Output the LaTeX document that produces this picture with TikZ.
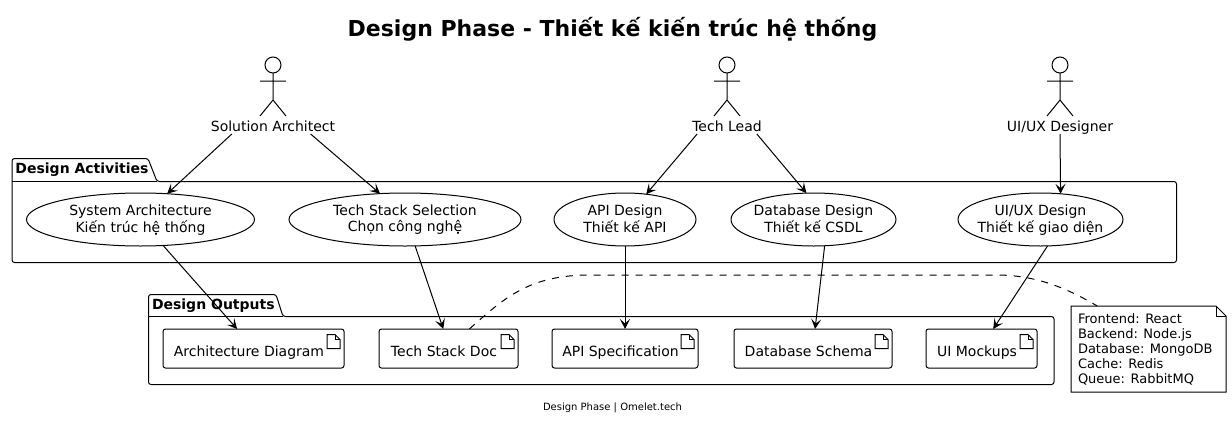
\documentclass[tikz,border=0pt]{standalone}
\usepackage{fontspec}
\setmainfont{DejaVu Sans}
\usetikzlibrary{arrows.meta,shapes.geometric}
\tikzset{
  every node/.style={inner sep=0pt,outer sep=0pt,font=\fontsize{14}{16}\selectfont,text=black},
  line/.style={draw=black,line width=1pt},
  flow/.style={line,-{Stealth[length=10pt,width=10pt,inset=4.5pt]}},
  usecase/.style={ellipse,line,fill=white,minimum width=#1,minimum height=53pt},
  artifact/.style={rectangle,line,rounded corners=2.5pt,fill=white,minimum width=#1,minimum height=39pt},
  actorlabel/.style={minimum height=16pt,text height=10pt,text depth=0pt},
  pkgtitle/.style={anchor=west,font=\fontsize{14}{15}\selectfont\bfseries},
}
\newcommand\arttext[1]{\smash{\raisebox{-7.5pt}{#1}}\kern9pt}
\newcommand\uctext[2]{\makebox[0pt][c]{\smash{\raisebox{-4.8pt}{\begin{tabular}{@{}c@{}}#1\\#2\end{tabular}}}}}
\newcommand\docicon[1]{%
  \draw[line,fill=white] ([shift={(-17,5.5)}]#1.north east) -- ([shift={(-9,5.5)}]#1.north east)
    -- ([shift={(-4,10.5)}]#1.north east) -- ([shift={(-4,19.5)}]#1.north east)
    -- ([shift={(-17,19.5)}]#1.north east) -- cycle;
  \draw[line] ([shift={(-9,5.5)}]#1.north east) -- ([shift={(-9,10.5)}]#1.north east) -- ([shift={(-4,10.5)}]#1.north east);}
\newcommand\actorfig[1]{%
  \draw[line] (#1,65) circle (8);
  \draw[line] (#1,73) -- (#1,100) (#1-13,81) -- (#1+13,81) (#1-13,116) -- (#1,100) -- (#1+13,116);}
\begin{document}
\begin{tikzpicture}[x=1pt,y=-1pt]
\useasboundingbox (0,0) rectangle (1232,426);
\fill[white] (0,0) rectangle (1232,426);
\node[font=\fontsize{22}{24}\selectfont\bfseries] (title) at (612.5,29) {Design Phase - Thiết kế kiến trúc hệ thống};
\node[font=\fontsize{10}{11}\selectfont] (footer) at (612.5,408) {Design Phase | Omelet.tech};

% packages
\draw[line,rounded corners=2.5pt] (12,181.5) -- (12,158.5) -- (148,158.5) -- (157,181.5) -- (1176.5,181.5) -- (1176.5,262.5) -- (12,262.5) -- cycle;
\draw[line] (12,181.5) -- (157,181.5);
\node[pkgtitle] (pkgact) at (15.5,169.5) {Design Activities};
\draw[line,rounded corners=2.5pt] (148.5,316.5) -- (148.5,294.5) -- (276,294.5) -- (283,316.5) -- (1054,316.5) -- (1054,384.5) -- (148.5,384.5) -- cycle;
\draw[line] (148.5,316.5) -- (283,316.5);
\node[pkgtitle] (pkgout) at (152,305.5) {Design Outputs};

% actors
\actorfig{273}
\actorfig{727}
\actorfig{1060}
\node[actorlabel,minimum width=124pt] (sa) at (273,126) {Solution Architect};
\node[actorlabel,minimum width=72pt] (tl) at (727,126) {Tech Lead};
\node[actorlabel,minimum width=106pt] (ux) at (1060,126) {UI/UX Designer};

% use cases
\node[usecase=228pt] (uc1) at (140.5,219.5) {\uctext{System Architecture}{Kiến trúc hệ thống}};
\node[usecase=232pt] (uc2) at (405,219.5) {\uctext{Tech Stack Selection}{Chọn công nghệ}};
\node[usecase=142pt] (uc3) at (625,219.5) {\uctext{API Design}{Thiết kế API}};
\node[usecase=165pt] (uc4) at (813.5,219.5) {\uctext{Database Design}{Thiết kế CSDL}};
\node[usecase=165pt] (uc5) at (1040.5,219.5) {\uctext{UI/UX Design}{Thiết kế giao diện}};

% artifacts
\node[artifact=181pt] (a1) at (253.5,348.5) {\arttext{Architecture Diagram}};
\node[artifact=139pt] (a2) at (448.5,348.5) {\arttext{Tech Stack Doc}};
\node[artifact=146pt] (a3) at (625,348.5) {\arttext{API Specification}};
\node[artifact=158pt] (a4) at (813,348.5) {\arttext{Database Schema}};
\node[artifact=111pt] (a5) at (981.5,348.5) {\arttext{UI Mockups}};
\foreach \n in {a1,a2,a3,a4,a5}{\docicon{\n}}

% note
\node[minimum width=155pt,minimum height=86pt] (note) at (1148.5,349) {};
\draw[line,fill=white] (note.north west) -- ([xshift=-10pt]note.north east) -- ([yshift=-10pt]note.north east) -- (note.south east) -- (note.south west) -- cycle;
\draw[line] ([xshift=-10pt]note.north east) -- ([xshift=-10pt,yshift=-10pt]note.north east) -- ([yshift=-10pt]note.north east);
\node[anchor=west,align=left,font=\fontsize{13}{15}\selectfont] (notetext) at (1078,349.5) {Frontend: React\\Backend: Node.js\\Database: MongoDB\\Cache: Redis\\Queue: RabbitMQ};

% connectors
\draw[flow] (sa.191.3) -- (uc1.44);
\draw[flow] (sa.348.7) -- (uc2.134);
\draw[flow] (tl.195) -- (uc3.50);
\draw[flow] (tl.345) -- (uc4.105);
\draw[flow] (ux.south) -- (uc5.52);
\draw[flow] (uc1.311.4) -- (a1.130.2);
\draw[flow] (uc2.291) -- (a2.105.8);
\draw[flow] (uc3.south) -- (a3.north);
\draw[flow] (uc4.293) -- (a4.84);
\draw[flow] (uc5.285) -- (a5.59.5);
\draw[line,dash pattern=on 7pt off 7pt] (a2.43.6) .. controls (505,297) and (530,275) .. (590,275) -- (1000,275) .. controls (1040,276) and (1070,290) .. (note.140.1);
\end{tikzpicture}
\end{document}
